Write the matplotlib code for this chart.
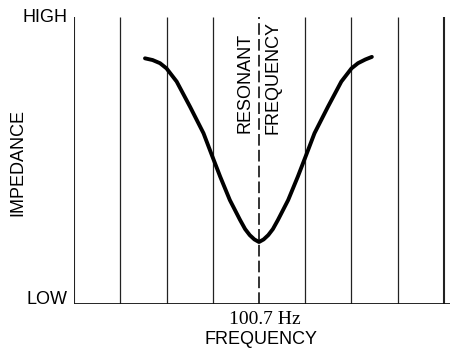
import matplotlib
matplotlib.use("Agg")
import matplotlib.pyplot as plt
import numpy as np

# Data (frequency positions in grid units; resonant at 4)
grid_x = [0, 1, 2, 3, 4, 5, 6, 7, 8]
resonant_x = 4
left_x = [1.535, 1.70, 1.86, 2.00, 2.22, 2.51, 2.80, 2.98, 3.16, 3.37, 3.59, 3.70, 3.80, 3.90, 4.00]
left_y = [0.856, 0.850, 0.839, 0.821, 0.775, 0.687, 0.595, 0.519, 0.444, 0.362, 0.293, 0.261, 0.240, 0.225, 0.216]
right_x = [4.10, 4.20, 4.30, 4.41, 4.63, 4.84, 5.02, 5.20, 5.49, 5.78, 6.00, 6.14, 6.30, 6.44]
right_y = [0.225, 0.240, 0.261, 0.293, 0.362, 0.444, 0.519, 0.595, 0.687, 0.775, 0.821, 0.839, 0.852, 0.861]
curve_x = left_x + right_x
curve_y = left_y + right_y
y_labels = ["LOW", "HIGH"]
x_label_value = "100.7 Hz"

W, H = 450, 349
fig = plt.figure(figsize=(W / 100, H / 100), dpi=100)
fig.patch.set_facecolor("white")

left, right, bottom, top = 74, 451, 304, 17
ax = fig.add_axes([left / W, 1 - bottom / H, (right - left) / W, (bottom - top) / H])
ax.set_xlim(0, (right - left) / 46.25)
ax.set_ylim(0, 1)
ax.axis("off")

for gx in grid_x:
    if gx == resonant_x:
        continue
    lw = 1.5 if gx in (0, 8) else 0.9
    ax.plot([gx, gx], [0, 1], color="#222222", lw=lw, solid_capstyle="butt", zorder=1)

ax.plot([resonant_x, resonant_x], [0, 1], color="#111111", lw=1.2,
        dashes=(7, 2.5), zorder=1)
ax.plot([0, ax.get_xlim()[1]], [0, 0], color="#111111", lw=2.0, zorder=2,
        solid_capstyle="butt")

ax.plot(curve_x, curve_y, color="black", lw=2.8, solid_capstyle="round",
        solid_joinstyle="round", zorder=3)

sans = ["Liberation Sans", "DejaVu Sans"]
fs = 13

def ftext(x, y, s, **kw):
    fig.text(x / W, 1 - y / H, s, **kw)

ftext(67, 17, y_labels[1], ha="right", va="center", fontsize=fs, family=sans)
ftext(67, 299, y_labels[0], ha="right", va="center", fontsize=fs, family=sans)
ftext(18, 162, "IMPEDANCE", ha="center", va="center", rotation=90, fontsize=fs, family=sans)
ftext(265, 320, x_label_value, ha="center", va="center", fontsize=14,
      family=["Liberation Serif", "DejaVu Serif"])
ftext(261, 340, "FREQUENCY", ha="center", va="center", fontsize=fs, family=sans)
ftext(245, 83, "RESONANT", ha="center", va="center", rotation=90, fontsize=fs, family=sans)
ftext(273, 77, "FREQUENCY", ha="center", va="center", rotation=90, fontsize=fs, family=sans)

fig.savefig("out.png", dpi=100, facecolor="white")
